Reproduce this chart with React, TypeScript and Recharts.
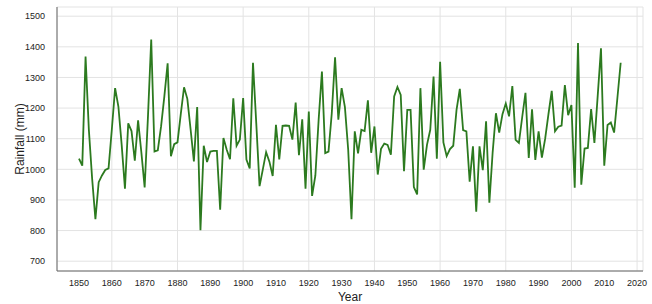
import React from 'react';
import { LineChart, Line, XAxis, YAxis, CartesianGrid } from 'recharts';

const START_YEAR = 1850;

// annual rainfall (mm), 1850 → 2015
const rainfall = [
  1035, 1012, 1368, 1130, 970, 837, 958, 980, 998, 1003,
  1130, 1265, 1205, 1080, 937, 1150, 1125, 1028, 1160, 1055,
  941, 1170, 1424, 1058, 1062, 1140, 1238, 1346, 1043, 1082,
  1088, 1180, 1268, 1230, 1130, 1026, 1203, 801, 1077, 1024,
  1058, 1060, 1060, 868, 1102, 1064, 1033, 1232, 1077, 1097,
  1233, 1032, 1003, 1348, 1150, 945, 1000, 1056, 1025, 978,
  1145, 1032, 1142, 1143, 1142, 1097, 1218, 1046, 1163, 937,
  1189, 913, 980, 1162, 1319, 1053, 1058, 1183, 1366, 1162,
  1265, 1203, 1064, 837, 1124, 1052, 1129, 1125, 1225, 1054,
  1140, 983, 1067, 1084, 1080, 1048, 1238, 1269, 1243, 994,
  1194, 1194, 942, 918, 1265, 999, 1080, 1129, 1303, 1035,
  1351, 1088, 1043, 1066, 1077, 1194, 1263, 1128, 1124, 960,
  1075, 862, 1075, 997, 1157, 891, 1055, 1183, 1120, 1180,
  1215, 1173, 1272, 1096, 1086, 1170, 1250, 1037, 1196, 1031,
  1124, 1038, 1100, 1180, 1256, 1124, 1139, 1143, 1275, 1177,
  1210, 940, 1412, 950, 1068, 1070, 1197, 1086, 1240, 1395,
  1012, 1145, 1153, 1120, 1233, 1348,
];

const yearTicks = [1850, 1860, 1870, 1880, 1890, 1900, 1910, 1920, 1930, 1940, 1950, 1960, 1970, 1980, 1990, 2000, 2010, 2020];
const rainTicks = [700, 800, 900, 1000, 1100, 1200, 1300, 1400, 1500];

const data = rainfall.map((rain, i) => ({ year: START_YEAR + i, rain }));

const tickStyle = { fill: '#222', fontSize: 9 };

const YLabel = () => (
  <text
    x={20}
    y={139}
    transform="rotate(-90 20 139)"
    textAnchor="middle"
    dominantBaseline="central"
    fontSize={12}
    fill="#222"
  >
    Rainfall (mm)
  </text>
);

const XLabel = () => (
  <text x={350} y={297} textAnchor="middle" dominantBaseline="central" fontSize={12} fill="#222">
    Year
  </text>
);

export default function App() {
  return (
    <div
      style={{
        position: 'absolute',
        left: 0,
        top: 0,
        width: 652,
        height: 304,
        background: '#fff',
        fontFamily: '"Liberation Sans", Arial, sans-serif',
      }}
    >
      <LineChart width={652} height={304} data={data} margin={{ top: 7, right: 9, left: 0, bottom: 0 }}>
        <CartesianGrid stroke="#e3e3e3" strokeWidth={1} />
        <XAxis
          dataKey="year"
          type="number"
          domain={[1843.3, 2021.8]}
          ticks={yearTicks}
          allowDataOverflow
          height={33}
          tickLine={false}
          axisLine={{ stroke: '#666' }}
          tick={tickStyle}
          tickMargin={3}
          label={{ content: () => <XLabel /> }}
        />
        <XAxis xAxisId="top" orientation="top" type="number" domain={[1843.3, 2021.8]} height={0} tick={false} tickLine={false} axisLine={{ stroke: '#666' }} />
        <YAxis
          type="number"
          domain={[668, 1530]}
          ticks={rainTicks}
          allowDataOverflow
          width={57}
          tickLine={false}
          axisLine={{ stroke: '#666' }}
          tick={tickStyle}
          tickMargin={6}
          label={{ content: () => <YLabel /> }}
        />
        <YAxis yAxisId="right" orientation="right" domain={[668, 1530]} width={0} tick={false} tickLine={false} axisLine={{ stroke: '#666' }} />
        <Line
          type="linear"
          dataKey="rain"
          stroke="#2c7a1f"
          strokeWidth={1.8}
          dot={false}
          isAnimationActive={false}
        />
      </LineChart>
    </div>
  );
}
